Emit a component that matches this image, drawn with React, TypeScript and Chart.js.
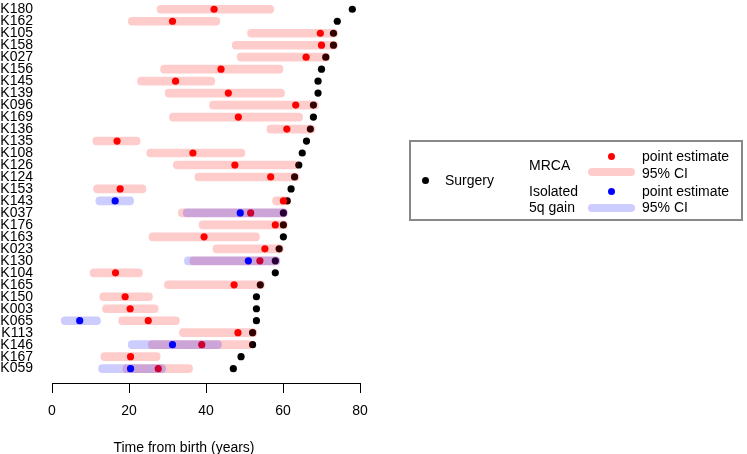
import React, { useEffect, useRef } from 'react';
import { Chart, registerables } from 'chart.js';

Chart.register(...registerables);

const FONT = '"Liberation Sans", Arial, Helvetica, sans-serif';

// Row (sample) labels, top to bottom
const rows = ['K180', 'K162', 'K105', 'K158', 'K027', 'K156', 'K145', 'K139', 'K096', 'K169', 'K136',
  'K135', 'K108', 'K126', 'K124', 'K153', 'K143', 'K037', 'K176', 'K163', 'K023', 'K130', 'K104',
  'K165', 'K150', 'K003', 'K065', 'K113', 'K146', 'K167', 'K059'];

// Age at surgery (years)
const surgery = [78.0, 74.1, 73.1, 73.1, 71.1, 70.0, 69.1, 69.1, 67.9, 67.9, 67.1, 66.1, 65.0, 64.1,
  63.0, 62.1, 61.1, 60.1, 60.1, 60.1, 59.0, 58.0, 58.0, 54.1, 53.1, 53.1, 53.1, 52.1, 52.1, 49.1, 47.1];

// MRCA point estimate and 95% CI
const mrcaEst = [42.1, 31.3, 69.7, 70.0, 66.0, 43.9, 32.1, 45.8, 63.3, 48.4, 61.0, 16.9, 36.6, 47.5,
  56.8, 17.7, 60.1, 51.6, 58.0, 39.5, 55.3, 54.0, 16.5, 47.3, 19.0, 20.3, 25.0, 48.3, 38.9, 20.4, 27.6];
const mrcaLo = [27.3, 19.8, 50.8, 46.8, 48.1, 28.2, 22.2, 29.4, 40.9, 30.5, 55.8, 10.6, 24.6, 31.5,
  37.1, 10.8, 57.3, 32.8, 38.2, 25.2, 41.8, 35.8, 9.9, 29.2, 12.4, 13.1, 17.3, 33.1, 25.0, 12.7, 18.4];
const mrcaHi = [57.6, 43.6, 74.2, 74.2, 72.1, 60.0, 42.3, 60.4, 69.2, 65.1, 68.3, 22.9, 50.1, 64.0,
  64.2, 24.4, 61.8, 61.1, 61.1, 53.9, 60.1, 59.0, 23.5, 55.2, 26.1, 27.6, 33.1, 53.2, 52.1, 28.1, 36.5];

// Isolated 5q gain point estimate and 95% CI (only some samples)
const N = null;
const gainEst = [N, N, N, N, N, N, N, N, N, N, N, N, N, N, N, N, 16.4, 48.9, N, N, N, 51.0, N, N, N,
  N, 7.2, N, 31.3, N, 20.4];
const gainLo = [N, N, N, N, N, N, N, N, N, N, N, N, N, N, N, N, 11.4, 34.1, N, N, N, 34.4, N, N, N,
  N, 2.4, N, 19.8, N, 12.1];
const gainHi = [N, N, N, N, N, N, N, N, N, N, N, N, N, N, N, N, 21.2, 61.1, N, N, N, 59.2, N, N, N,
  N, 12.6, N, 44.0, N, 29.5];

const xTicks = [0, 20, 40, 60, 80];

const RED_CI = 'rgba(255,0,0,0.2)';
const BLUE_CI = 'rgba(0,0,255,0.2)';

function pts(vals: (number | null)[]) {
  return vals
    .map((v, i) => (v == null ? null : { x: v, y: i }))
    .filter((d) => d !== null);
}
function spans(lo: (number | null)[], hi: (number | null)[]) {
  return lo
    .map((l, i) => (l == null || hi[i] == null ? null : { x: [l, hi[i]], y: i }))
    .filter((d) => d !== null);
}

const abs = (s: React.CSSProperties): React.CSSProperties => ({ position: 'absolute', ...s });
const txt = (left: number, cy: number, t: string) => (
  <div style={abs({ left, top: cy - 8, lineHeight: '16px', fontSize: 14, whiteSpace: 'nowrap' })}>{t}</div>
);
const dot = (cx: number, cy: number, color: string) => (
  <div style={abs({ left: cx - 3.5, top: cy - 3.5, width: 7, height: 7, borderRadius: '50%', background: color })} />
);
const bar = (x0: number, x1: number, cy: number, color: string) => (
  <div style={abs({ left: x0, top: cy - 4, width: x1 - x0, height: 8, borderRadius: 4, background: color })} />
);

export default function App() {
  const ref = useRef<HTMLCanvasElement>(null);

  useEffect(() => {
    if (!ref.current) return;
    const barCommon = {
      type: 'bar' as const,
      indexAxis: 'y' as const,
      barThickness: 8,
      borderRadius: 4,
      borderSkipped: false,
      borderWidth: 0,
      grouped: false,
      clip: false as const,
    };
    const ptCommon = {
      type: 'scatter' as const,
      pointRadius: 3.6,
      pointBorderWidth: 0,
      showLine: false,
      clip: false as const,
    };
    const chart = new Chart(ref.current, {
      type: 'bar',
      data: {
        datasets: [
          { ...ptCommon, label: 'Surgery', data: pts(surgery), backgroundColor: '#000000', borderColor: '#000000', order: 5 } as any,
          { ...barCommon, label: 'MRCA 95% CI', data: spans(mrcaLo, mrcaHi), backgroundColor: RED_CI, order: 4 } as any,
          { ...ptCommon, label: 'MRCA point estimate', data: pts(mrcaEst), backgroundColor: '#ff0000', borderColor: '#ff0000', order: 3 } as any,
          { ...barCommon, label: 'Isolated 5q gain 95% CI', data: spans(gainLo, gainHi), backgroundColor: BLUE_CI, order: 2 } as any,
          { ...ptCommon, label: 'Isolated 5q gain point estimate', data: pts(gainEst), backgroundColor: '#0000ff', borderColor: '#0000ff', order: 1 } as any,
        ],
      },
      options: {
        indexAxis: 'y',
        animation: false,
        responsive: false,
        maintainAspectRatio: false,
        layout: { padding: { left: 0, top: 0, right: 387, bottom: 0 } },
        plugins: { legend: { display: false }, tooltip: { enabled: false }, title: { display: false } },
        scales: {
          x: {
            type: 'linear',
            position: 'bottom',
            min: 0,
            max: 80,
            offset: false,
            afterBuildTicks: (s: any) => {
              s.ticks = xTicks.map((v) => ({ value: v }));
            },
            ticks: {
              color: '#000',
              font: { family: FONT, size: 14 },
              padding: 10,
              maxRotation: 0,
              autoSkip: false,
            },
            grid: { display: true, drawOnChartArea: false, drawTicks: true, tickLength: 10, color: '#000', lineWidth: 1 },
            border: { display: true, color: '#000', width: 1 },
            afterFit: (s: any) => {
              s.height = 71;
            },
          },
          y: {
            type: 'linear',
            reverse: true,
            min: -0.44,
            max: 31.2,
            offset: false,
            afterBuildTicks: (s: any) => {
              s.ticks = rows.map((_, i) => ({ value: i }));
            },
            ticks: {
              autoSkip: false,
              callback: (v: any) => rows[Math.round(Number(v))],
              color: '#000',
              font: { family: FONT, size: 14 },
              padding: 19,
            },
            grid: { display: false, drawTicks: false, offset: false },
            border: { display: false },
            afterFit: (s: any) => {
              s.width = 52;
              s.paddingTop = 0;
              s.paddingBottom = 0;
            },
          },
        },
      } as any,
    });
    return () => chart.destroy();
  }, []);

  return (
    <div style={abs({ left: 0, top: 0, width: 747, height: 454, fontFamily: FONT, color: '#000', background: '#fff', overflow: 'hidden' })}>
      <canvas ref={ref} width={747} height={454} style={{ position: 'absolute', left: 0, top: 0, width: 747, height: 454 }} />
      <div style={abs({ left: 84, width: 200, top: 439, lineHeight: '16px', fontSize: 14, textAlign: 'center', whiteSpace: 'nowrap' })}>
        Time from birth (years)
      </div>
      <div style={abs({ left: 409, top: 140, width: 334, height: 81, boxSizing: 'border-box', border: '2px solid #888' })} />
      {dot(425.7, 180, '#000')}
      {txt(445, 180, 'Surgery')}
      {txt(529, 164.5, 'MRCA')}
      {txt(529, 190.5, 'Isolated')}
      {txt(529, 207, '5q gain')}
      {dot(611, 156, '#ff0000')}
      {bar(588, 635, 172, RED_CI)}
      {dot(611, 191.7, '#0000ff')}
      {bar(588, 635, 207.7, BLUE_CI)}
      {txt(642, 156, 'point estimate')}
      {txt(642, 172.7, '95% CI')}
      {txt(642, 190.7, 'point estimate')}
      {txt(642, 207, '95% CI')}
    </div>
  );
}
